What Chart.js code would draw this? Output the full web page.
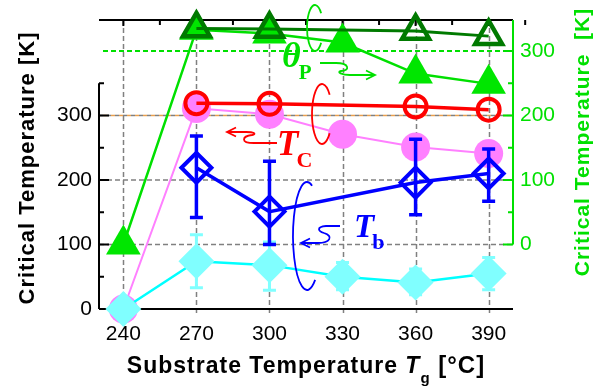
<!DOCTYPE html>
<html>
<head>
<meta charset="utf-8">
<script src="https://cdn.jsdelivr.net/npm/chart.js@4.4.1/dist/chart.umd.min.js"></script>
<style>
  html, body { margin: 0; padding: 0; background: #fff; }
  #wrap { width: 616px; height: 392px; position: relative; }
</style>
</head>
<body>
<div id="wrap"><canvas id="chart"></canvas></div>
<script>
// Substrate temperature (x) and tick values
const tg = [240, 270, 300, 330, 360, 390];
const leftTicks = [0, 100, 200, 300];
const rightTicks = [0, 100, 200, 300];

// theta_P, right axis [K]
const thetaPFilled = [0, 333, 327, 313, 265, 249];
const thetaPOpen = [null, 335, 334, null, 331, 323];

// T_C, left axis [K]
const tcOpen = [null, 319, 318, null, 314, 309];
const tcFilled = [0, 311, 302, 271, 251, 241];

// T_b, left axis [K], with error bars
const tbOpen = [null, 219, 151, null, 196, 210];
const tbOpenLow = [null, 142, 100, null, 146, 167];
const tbOpenHigh = [null, 268, 229, null, 263, 248];
const tbFilled = [0, 74, 68, 50, 41, 55];
const tbFilledLow = [null, 33, 29, 30, 22, 30];
const tbFilledHigh = [null, 115, 104, 72, 62, 80];

const SANS = "'Liberation Sans', Arial, sans-serif";
const SERIF = "'Liberation Serif', 'Times New Roman', serif";
const GREEN = '#00e000';

function pts(values) {
    return values.map(function(v, i) { return { x: tg[i], y: v }; });
}

// error bars drawn just before their dataset so markers sit on top
const errorBars = {
    id: 'errorBars',
    beforeDatasetDraw(chart, args) {
        const ds = chart.data.datasets[args.index];
        if (!ds.errLow) return;
        const yScale = chart.scales[ds.yAxisID];
        const ctx = chart.ctx;
        ctx.save();
        ctx.strokeStyle = ds.errColor;
        ctx.lineWidth = ds.errWidth;
        ds.data.forEach(function(p, i) {
            if (p.y == null || ds.errLow[i] == null) return;
            const x = args.meta.data[i].x;
            const lo = yScale.getPixelForValue(ds.errLow[i]);
            const hi = yScale.getPixelForValue(ds.errHigh[i]);
            ctx.beginPath();
            ctx.moveTo(x, lo); ctx.lineTo(x, hi);
            ctx.moveTo(x - 6.5, lo); ctx.lineTo(x + 6.5, lo);
            ctx.moveTo(x - 6.5, hi); ctx.lineTo(x + 6.5, hi);
            ctx.stroke();
        });
        ctx.restore();
    }
};

// dashed grid and axis frame, drawn from the scales under the data
const frame = {
    id: 'frame',
    beforeDatasetsDraw(chart) {
        const ctx = chart.ctx;
        const a = chart.chartArea;
        const xs = chart.scales.x, y = chart.scales.y, y2 = chart.scales.y2;
        ctx.save();
        ctx.lineWidth = 1.5;
        ctx.strokeStyle = '#808080';
        ctx.setLineDash([5, 3]);
        ctx.beginPath();
        tg.forEach(function(v) {
            const px = Math.round(xs.getPixelForValue(v)) + 0.5;
            ctx.moveTo(px, a.top); ctx.lineTo(px, a.bottom + 6);
        });
        [100, 200].forEach(function(v) {
            const py = y.getPixelForValue(v);
            ctx.moveTo(a.left, py); ctx.lineTo(a.right, py);
        });
        ctx.stroke();
        // left 300 / right 200 coincide: gray and orange alternating
        const p300 = y.getPixelForValue(300);
        ctx.setLineDash([4, 4]);
        ctx.beginPath();
        ctx.moveTo(a.left, p300); ctx.lineTo(a.right, p300);
        ctx.stroke();
        ctx.strokeStyle = '#e8a050';
        ctx.lineDashOffset = 4;
        ctx.beginPath();
        ctx.moveTo(a.left, y2.getPixelForValue(200)); ctx.lineTo(a.right, y2.getPixelForValue(200));
        ctx.stroke();
        // right 300 in green
        ctx.strokeStyle = GREEN;
        ctx.lineWidth = 2;
        ctx.lineDashOffset = 0;
        ctx.setLineDash([5, 3]);
        ctx.beginPath();
        const g300 = y2.getPixelForValue(300);
        ctx.moveTo(a.left + 4, g300); ctx.lineTo(a.right, g300);
        ctx.stroke();
        ctx.setLineDash([]);

        // black frame: left axis 0..350, bottom and top axes
        ctx.lineWidth = 2;
        ctx.strokeStyle = '#000';
        ctx.beginPath();
        ctx.moveTo(a.left, y.getPixelForValue(0));
        ctx.lineTo(a.left, y.getPixelForValue(350));
        [0, 50, 100, 150, 200, 250, 300, 350].forEach(function(v) {
            const py = y.getPixelForValue(v);
            ctx.moveTo(a.left, py);
            ctx.lineTo(a.left + (v % 100 === 0 ? 10 : 5), py);
        });
        ctx.moveTo(a.left, a.bottom); ctx.lineTo(a.right, a.bottom);
        ctx.moveTo(a.left, a.top); ctx.lineTo(a.right, a.top);
        tg.forEach(function(v) {
            const px = xs.getPixelForValue(v);
            ctx.moveTo(px, a.top); ctx.lineTo(px, a.top + 6);
            const pm = xs.getPixelForValue(v + 15);
            ctx.moveTo(pm, a.top); ctx.lineTo(pm, a.top + 5);
        });
        ctx.stroke();
        // right axis (green) 0..top
        ctx.strokeStyle = GREEN;
        ctx.beginPath();
        ctx.moveTo(a.right, y2.getPixelForValue(0));
        ctx.lineTo(a.right, a.top);
        [0, 50, 100, 150, 200, 250, 300].forEach(function(v) {
            const py = y2.getPixelForValue(v);
            ctx.moveTo(a.right, py);
            ctx.lineTo(a.right - (v % 100 === 0 ? 10 : 5), py);
        });
        ctx.stroke();
        ctx.restore();
    },
    afterDraw(chart) {
        const ctx = chart.ctx;
        ctx.save();
        ctx.textAlign = 'center';
        ctx.textBaseline = 'middle';
        // axis titles
        ctx.fillStyle = '#000';
        ctx.font = 'bold 22px ' + SANS;
        ctx.letterSpacing = '1px';
        ctx.save();
        ctx.translate(28, 168);
        ctx.rotate(-Math.PI / 2);
        ctx.fillText('Critical Temperature [K]', 0, 0);
        ctx.restore();
        ctx.fillStyle = GREEN;
        ctx.font = 'bold 21px ' + SANS;
        ctx.save();
        ctx.translate(583, 142);
        ctx.rotate(-Math.PI / 2);
        ctx.fillText('Critical Temperature  [K]', 0, 0);
        ctx.restore();

        // x title with subscript
        const parts = [
            { t: 'Substrate Temperature ', f: 'bold 23px ' + SANS, dy: 0 },
            { t: 'T', f: 'italic bold 23px ' + SANS, dy: 0 },
            { t: 'g', f: 'bold 15px ' + SANS, dy: 10 },
            { t: ' [\u00B0C]', f: 'bold 24px ' + SANS, dy: 0 }
        ];
        ctx.fillStyle = '#000';
        ctx.textAlign = 'left';
        ctx.textBaseline = 'alphabetic';
        let total = 0;
        parts.forEach(function(p) { ctx.font = p.f; p.w = ctx.measureText(p.t).width; total += p.w; });
        let cx = 306 - total / 2;
        parts.forEach(function(p) { ctx.font = p.f; ctx.fillText(p.t, cx, 373 + p.dy); cx += p.w; });
        ctx.letterSpacing = '0px';

        // series labels
        function label(color, main, sub, x, yb, size, subSize) {
            ctx.fillStyle = color;
            ctx.font = 'italic bold ' + size + 'px ' + SERIF;
            ctx.fillText(main, x, yb);
            const w = ctx.measureText(main).width;
            ctx.font = 'bold ' + subSize + 'px ' + SERIF;
            ctx.fillText(sub, x + w - 2, yb + 12);
        }
        label(GREEN, '\u03B8', 'P', 282, 67, 36, 21);
        label('#ff0000', 'T', 'C', 277, 155, 35, 22);
        label('#0000ff', 'T', 'b', 354, 237, 33, 22);

        // braces and curly arrows
        ctx.lineWidth = 1.8;
        function arrowHead(x, yv, dir) {
            ctx.beginPath();
            ctx.moveTo(x - dir * 9, yv - 4.5);
            ctx.lineTo(x, yv);
            ctx.lineTo(x - dir * 9, yv + 4.5);
            ctx.stroke();
        }
        // theta_P
        ctx.strokeStyle = GREEN;
        ctx.beginPath();
        ctx.ellipse(315, 28, 8, 23, 0, -0.7, 0.7, true);
        ctx.stroke();
        ctx.beginPath();
        ctx.moveTo(320, 63);
        ctx.lineTo(336, 63);
        ctx.bezierCurveTo(350, 63, 350, 71, 341, 71);
        ctx.bezierCurveTo(336, 72, 342, 75, 350, 75);
        ctx.lineTo(375, 75);
        ctx.stroke();
        arrowHead(375, 75, 1);
        // T_C
        ctx.strokeStyle = '#ff0000';
        ctx.beginPath();
        ctx.ellipse(322, 114, 10, 30, 0, -0.7, 0.7, true);
        ctx.stroke();
        ctx.beginPath();
        ctx.moveTo(277, 143);
        ctx.lineTo(254, 143);
        ctx.bezierCurveTo(240, 143, 242, 136, 252, 135);
        ctx.bezierCurveTo(257, 134, 254, 132, 246, 132);
        ctx.lineTo(227, 132);
        ctx.stroke();
        arrowHead(227, 132, -1);
        // T_b
        ctx.strokeStyle = '#0000ff';
        ctx.beginPath();
        ctx.ellipse(307, 236, 14, 54, 0, -1.2, 0.95, true);
        ctx.stroke();
        ctx.beginPath();
        ctx.moveTo(340, 226);
        ctx.lineTo(326, 226);
        ctx.bezierCurveTo(316, 227, 318, 231, 324, 233);
        ctx.bezierCurveTo(334, 236, 330, 243, 318, 243);
        ctx.lineTo(301, 243);
        ctx.stroke();
        arrowHead(301, 243, -1);
        ctx.restore();
    }
};

function tickOnly(values) {
    return function(scale) { scale.ticks = values.map(function(v) { return { value: v }; }); };
}

new Chart(document.getElementById('chart'), {
    type: 'line',
    data: {
        datasets: [
            {
                data: pts(thetaPOpen), yAxisID: 'y2', spanGaps: true,
                borderColor: '#007a00', borderWidth: 3,
                pointStyle: 'triangle', pointRadius: 15.5, pointBorderWidth: 4.5,
                pointBorderColor: '#007a00', pointBackgroundColor: 'rgba(0,0,0,0)'
            },
            {
                data: pts(thetaPFilled), yAxisID: 'y2',
                borderColor: GREEN, borderWidth: 2.5,
                pointStyle: 'triangle', pointRadius: 20, pointBorderWidth: 0,
                pointBackgroundColor: '#00e600'
            },
            {
                data: pts(tcOpen), yAxisID: 'y', spanGaps: true,
                borderColor: '#ff0000', borderWidth: 3.5,
                pointStyle: 'circle', pointRadius: 11, pointBorderWidth: 4,
                pointBorderColor: '#ff0000', pointBackgroundColor: 'rgba(0,0,0,0)'
            },
            {
                data: pts(tbOpen), yAxisID: 'y', spanGaps: true,
                errLow: tbOpenLow, errHigh: tbOpenHigh, errColor: '#0000ff', errWidth: 3.5,
                borderColor: '#0000ff', borderWidth: 3.5,
                pointStyle: 'rectRot', pointRadius: 15, pointBorderWidth: 4,
                pointBorderColor: '#0000ff', pointBackgroundColor: 'rgba(0,0,0,0)'
            },
            {
                data: pts(tbFilled), yAxisID: 'y',
                errLow: tbFilledLow, errHigh: tbFilledHigh, errColor: '#80ffff', errWidth: 3,
                borderColor: '#00ffff', borderWidth: 2.5,
                pointStyle: 'rectRot', pointRadius: 18, pointBorderWidth: 0,
                pointBackgroundColor: '#80ffff'
            },
            {
                data: pts(tcFilled), yAxisID: 'y',
                borderColor: '#ff80ff', borderWidth: 2,
                pointStyle: 'circle', pointRadius: 14.5, pointBorderWidth: 0,
                pointBackgroundColor: '#ff80ff'
            }
        ]
    },
    options: {
        responsive: true,
        maintainAspectRatio: false,
        animation: false,
        datasets: { line: { tension: 0, clip: false } },
        layout: { padding: { top: 14, left: 0, right: 0, bottom: 0 } },
        plugins: { legend: { display: false }, tooltip: { enabled: false } },
        scales: {
            x: {
                type: 'linear', min: 230, max: 400,
                afterBuildTicks: tickOnly(tg),
                afterFit: function(s) { s.height = 83; },
                grid: { display: false, drawTicks: false },
                border: { display: false },
                ticks: { color: '#000', font: { family: SANS, size: 21 }, padding: 13, maxRotation: 0 }
            },
            y: {
                position: 'left', min: 0, max: 448,
                afterBuildTicks: tickOnly(leftTicks),
                afterFit: function(s) { s.width = 99; },
                grid: { display: false, drawTicks: false },
                border: { display: false },
                ticks: { color: '#000', font: { family: SANS, size: 21 }, padding: 7 }
            },
            y2: {
                position: 'right', min: -100, max: 348,
                afterBuildTicks: tickOnly(rightTicks),
                afterFit: function(s) { s.width = 103; },
                grid: { display: false, drawTicks: false },
                border: { display: false },
                ticks: { color: GREEN, font: { family: SANS, size: 21 }, padding: 7 }
            }
        }
    },
    plugins: [frame, errorBars]
});
</script>
</body>
</html>
